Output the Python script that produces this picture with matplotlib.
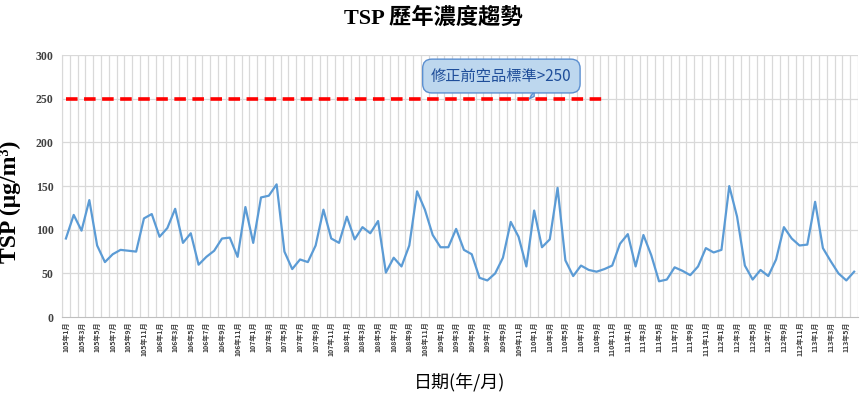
import matplotlib
matplotlib.use("Agg")
import matplotlib.pyplot as plt

plt.rcParams['font.family'] = ['Liberation Serif', 'Noto Sans CJK TC', 'DejaVu Sans']

# 105年1月 ~ 113年6月, 每月 TSP 濃度
years = [105, 106, 107, 108, 109, 110, 111, 112, 113]
months = [f"{y}年{m}月" for y in years for m in range(1, 13)][:102]

tsp = [90, 117, 99, 134, 82, 63, 72, 77, 76, 75, 113, 118,
       92, 102, 124, 85, 96, 60, 69, 76, 90, 91, 69, 126,
       85, 137, 139, 152, 75, 55, 66, 63, 82, 123, 90, 85,
       115, 89, 103, 96, 110, 51, 68, 58, 82, 144, 123, 94,
       80, 80, 101, 77, 72, 45, 42, 50, 68, 109, 92, 58,
       122, 80, 89, 148, 65, 47, 59, 54, 52, 55, 59, 84,
       95, 58, 94, 71, 41, 43, 57, 53, 48, 58, 79, 74,
       77, 150, 115, 59, 43, 54, 47, 66, 103, 90, 82, 83,
       132, 79, 64, 50, 42, 52]

std_value = 250      # 修正前空品標準
std_months = 70      # 標準線畫到 110年10月
std_line = [std_value] * std_months

fig = plt.figure(figsize=(8.66, 4.05), dpi=100)
ax = fig.add_axes([0.0716, 0.217, 0.9192, 0.647])

x = list(range(len(tsp)))
ax.plot(x, tsp, color='#5b9bd5', lw=1.6, zorder=3)
ax.plot(range(std_months), std_line, color='#ff0000', lw=2.6,
        linestyle=(0, (3.2, 1.8)), zorder=3)

# 格線
for i in range(len(tsp) + 1):
    ax.axvline(i - 0.5, color='#d9d9d9', lw=0.9, zorder=1)
for v in range(50, 301, 50):
    ax.axhline(v, color='#d9d9d9', lw=0.9, zorder=1)

ax.set_xlim(-0.5, len(tsp) - 0.5)
ax.set_ylim(0, 300)
ax.set_yticks(range(0, 301, 50))
ax.set_xticks(x[::2])
ax.set_xticklabels(months[::2], rotation=90, fontsize=5, color='#404040',
                   family=['Noto Sans CJK TC'], fontweight='bold')
for lab in ax.get_yticklabels():
    lab.set_fontweight('bold')
ax.tick_params(axis='y', labelsize=8.5, colors='#404040', length=0, pad=6)
ax.tick_params(axis='x', length=0, pad=3)
for s in ['top', 'right']:
    ax.spines[s].set_visible(False)
ax.spines['left'].set_color('#d9d9d9')
ax.spines['bottom'].set_color('#bfbfbf')

ax.set_ylabel('TSP (μg/m³)', fontsize=17, fontweight='bold')
ax.yaxis.set_label_coords(-0.0515, 0.44)
ax.set_xlabel('日期(年/月)', fontsize=13, family=['Noto Sans CJK TC'],
              fontweight='medium', labelpad=12)
fig.text(0.5, 0.955, 'TSP 歷年濃度趨勢', ha='center', va='center',
         fontsize=16, fontweight='bold')

ax.annotate('修正前空品標準>250', xy=(60.3, 251), xytext=(55.8, 276),
            ha='center', va='center', fontsize=11, color='#1f4e9a',
            family=['Noto Sans CJK TC'],
            bbox=dict(boxstyle='round,pad=0.55,rounding_size=0.6',
                      fc='#bdd7ee', ec='#5b8fd0', lw=1),
            arrowprops=dict(arrowstyle='wedge,tail_width=0.6,shrink_factor=0.5',
                            fc='#bdd7ee', ec='#5b8fd0', lw=1),
            zorder=5)

fig.savefig('out.png', dpi=100)
